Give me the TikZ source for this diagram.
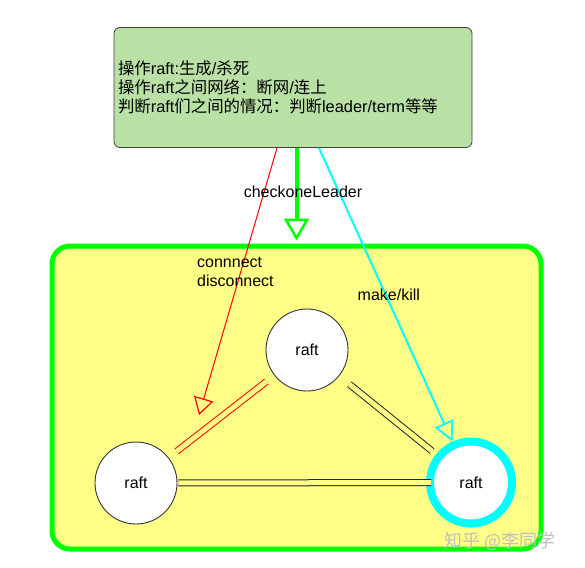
\documentclass[tikz,border=0pt]{standalone}
\usepackage{fontspec}
\setmainfont{Liberation Sans}
\newfontfamily\cjk{Noto Sans CJK SC}
\usetikzlibrary{arrows.meta}
\definecolor{boxgreen}{HTML}{B9E0A5}
\definecolor{boxyellow}{HTML}{FFFF88}
\definecolor{brightgreen}{HTML}{00FF00}
\definecolor{ringcyan}{HTML}{00FFFF}
\begin{document}
\begin{tikzpicture}[x=1pt, y=-1pt, font=\fontsize{16}{19}\selectfont,
		ctrlbox/.style = {draw=black!75, fill=boxgreen, rounded corners=6pt, line width=0.8pt,
			minimum width=358pt, minimum height=120pt, text width=350pt, inner xsep=4pt, align=left},
		cluster/.style = {draw=brightgreen, fill=boxyellow, rounded corners=18pt, line width=5pt,
			minimum width=489pt, minimum height=303pt},
		peer/.style = {circle, draw=black!80, fill=white, line width=0.9pt, minimum size=82pt, inner sep=0pt},
		leader/.style = {peer, draw=ringcyan, line width=8pt},
		link/.style = {draw=black!85, line width=1pt, double=boxyellow, double distance=5pt}]
	\useasboundingbox (0,0) rectangle (585,567);
	% the test harness and the cluster
	\node[ctrlbox] (ctrl) at (293,87.5) {\fontsize{16.4}{18.5}\selectfont
		{\cjk 操作}raft:{\cjk 生成}/{\cjk 杀死}\\
		{\cjk 操作}raft{\cjk 之间网络：断网}/{\cjk 连上}\\
		{\cjk 判断}raft{\cjk 们之间的情况：判断}leader/term{\cjk 等等}};
	\node[cluster] (cluster) at (296.5,397.5) {};
	\node[peer] (top) at (307,350) {raft};
	\node[peer] (left) at (136,483) {raft};
	\node[leader] (right) at (471,482.5) {raft};
	\coordinate (redtip) at (199,415);
	% links between the rafts
	\draw[link, draw=red, shorten <=10pt, shorten >=10pt] (top) -- (left);
	\draw[link, shorten <=13pt, shorten >=5pt] (top) -- (right);
	\draw[link, shorten <=1pt, shorten >=-5pt] (left) -- (right);
	% calls from the harness
	\draw[red, line width=1pt, -{Triangle[open, length=17pt, width=20pt, line width=1.2pt]}] ([xshift=-16pt]ctrl.south) -- (redtip);
	\draw[ringcyan, line width=2pt, -{Triangle[open, length=20pt, width=20pt, line width=1.8pt]}] ([xshift=26pt]ctrl.south) -- (right);
	\draw[brightgreen, line width=4pt, shorten >=3pt,
		-{Triangle[open, length=22pt, width=25pt, line width=2.5pt]}] (ctrl.south -| cluster.north) -- (cluster.north);
	\node (check) at (303,191.5) {checkoneLeader};
	\node[anchor=west, align=left, inner sep=0pt] (conn) at (197,271.5) {connnect\\disconnect};
	\node[anchor=west, inner sep=0pt] (make) at (357.5,295) {make/kill};
	\node[text=black!25, font=\cjk\fontsize{18}{18}\selectfont] (mark) at (500,541) {知乎 @李同学};
\end{tikzpicture}
\end{document}
